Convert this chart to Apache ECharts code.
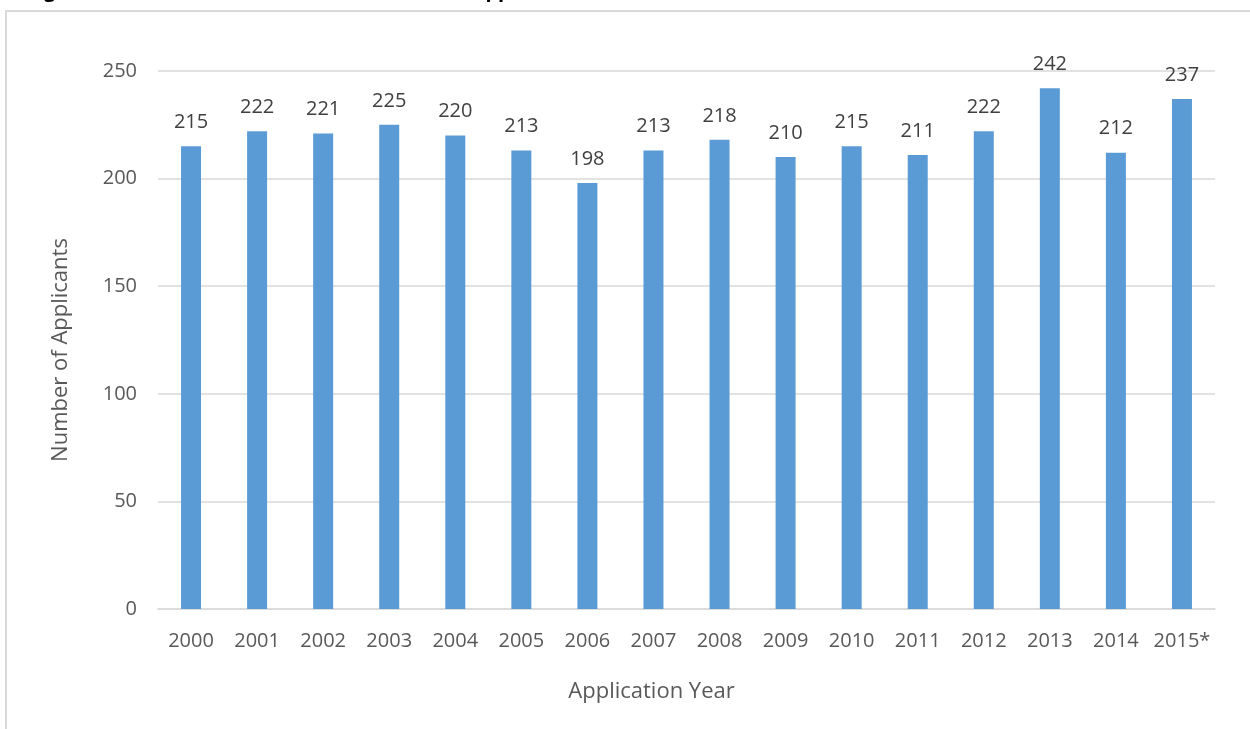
<!DOCTYPE html>
<html><head><meta charset="utf-8">
<script src="https://cdn.jsdelivr.net/npm/echarts@6/dist/echarts.min.js"></script>
<style>html,body{margin:0;padding:0;background:#fff}#c{width:1250px;height:729px}</style>
</head><body><div id="c"></div>
<script>
var years = ['2000','2001','2002','2003','2004','2005','2006','2007','2008','2009','2010','2011','2012','2013','2014','2015*'];
var applicants = [215,222,221,225,220,213,198,213,218,210,215,211,222,242,212,237];
var yTicks = {min:0, max:250, interval:50};
var font = '"Open Sans", sans-serif';
var chart = echarts.init(document.getElementById('c'));
chart.setOption({
  animation:false,
  title:{text:'Figure 1: Annual Number of Total Admission Applicants, 2000-2015', left:22, top:-24,
    textStyle:{fontFamily:font, fontSize:20, fontWeight:'bold', color:'#000'}},
  graphic:[{type:'rect', shape:{x:6, y:11, width:1400, height:900}, style:{fill:'none', stroke:'#d9d9d9', lineWidth:2}, z:-1}],
  grid:{left:158, right:35, top:71, bottom:120},
  xAxis:{type:'category', data:years, name:'Application Year', nameLocation:'middle', nameGap:72,
    nameTextStyle:{fontFamily:font, fontSize:22, color:'#595959', padding:[0,70,0,0]},
    axisLine:{lineStyle:{color:'#d9d9d9', width:1.5}}, axisTick:{show:false},
    axisLabel:{interval:0, fontFamily:font, fontSize:20, color:'#595959', margin:22}},
  yAxis:{type:'value', min:yTicks.min, max:yTicks.max, interval:yTicks.interval,
    name:'Number of Applicants', nameLocation:'middle', nameGap:86, nameRotate:90,
    nameTextStyle:{fontFamily:font, fontSize:22, color:'#595959', padding:[0,20,0,0]},
    axisLine:{show:false}, axisTick:{show:false},
    axisLabel:{fontFamily:font, fontSize:20, color:'#595959', margin:21},
    splitLine:{lineStyle:{color:'#d9d9d9', width:1.5}}},
  series:[{type:'bar', data:applicants, barWidth:20, itemStyle:{color:'#5b9bd5'},
    label:{show:true, position:'top', distance:14, fontFamily:font, fontSize:20, color:'#404040'}}]
});
</script></body></html>
